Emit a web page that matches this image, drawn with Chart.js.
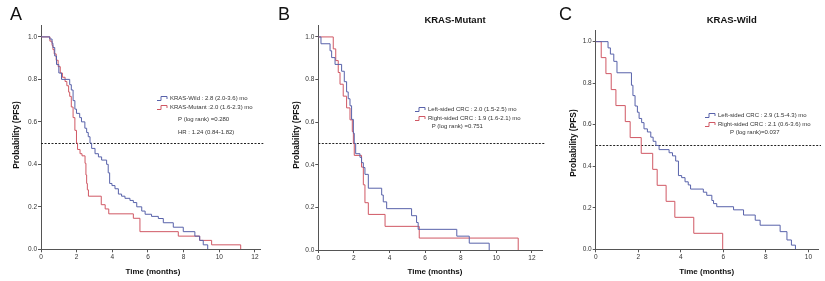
<!DOCTYPE html>
<html>
<head>
<meta charset="utf-8">
<script src="https://cdn.jsdelivr.net/npm/chart.js@4.4.1/dist/chart.umd.min.js"></script>
<style>
body{margin:0;background:#fff;overflow:hidden;}
.panel{position:absolute;top:0;width:275px;height:281px;}
</style>
</head>
<body>
<div class="panel" style="left:0"><canvas id="chartA" width="275" height="281"></canvas></div>
<div class="panel" style="left:275px"><canvas id="chartB" width="275" height="281"></canvas></div>
<div class="panel" style="left:550px"><canvas id="chartC" width="275" height="281"></canvas></div>
<script>
// ---- data ----
// A: all patients, KRAS-Wild vs KRAS-Mutant
const aWildTime = [0, 0.49, 0.62, 0.67, 0.77, 0.87, 1.0, 1.15, 1.61, 1.7, 1.8, 1.9, 1.99, 2.17, 2.27, 2.46, 2.56, 2.65, 2.75, 2.84, 3.03, 3.22, 3.4, 3.68, 3.77, 3.85, 3.98, 4.15, 4.34, 4.52, 4.71, 4.99, 5.18, 5.37, 5.65, 5.84, 6.2, 6.58, 6.86, 7.42, 7.98, 8.63, 8.9, 9.1, 9.35];
const aWildSurv = [1, 0.99, 0.97, 0.95, 0.91, 0.87, 0.83, 0.80, 0.775, 0.75, 0.70, 0.66, 0.64, 0.62, 0.60, 0.57, 0.55, 0.53, 0.50, 0.475, 0.45, 0.435, 0.42, 0.40, 0.36, 0.31, 0.30, 0.285, 0.26, 0.25, 0.24, 0.23, 0.22, 0.20, 0.18, 0.165, 0.155, 0.145, 0.125, 0.104, 0.083, 0.062, 0.042, 0.021, 0];
const aMutTime = [0, 0.5, 0.62, 0.67, 0.74, 0.85, 0.96, 1.08, 1.2, 1.35, 1.45, 1.55, 1.61, 1.7, 1.8, 1.9, 1.99, 2.05, 2.19, 2.3, 2.47, 2.52, 2.56, 2.6, 2.66, 3.38, 3.6, 3.8, 5.18, 5.55, 7.7, 8.9, 9.57, 11.2];
const aMutSurv = [1, 0.98, 0.96, 0.94, 0.92, 0.89, 0.86, 0.83, 0.81, 0.79, 0.77, 0.74, 0.72, 0.67, 0.62, 0.56, 0.50, 0.47, 0.45, 0.44, 0.405, 0.35, 0.31, 0.28, 0.25, 0.21, 0.19, 0.167, 0.146, 0.083, 0.062, 0.042, 0.021, 0];
// B: KRAS-Mutant, left- vs right-sided
const bLeftTime = [0, 0.15, 0.66, 0.75, 0.94, 1.31, 1.46, 1.59, 1.68, 1.78, 1.87, 1.97, 2.02, 2.1, 2.34, 2.43, 2.53, 2.62, 2.81, 3.56, 3.65, 3.84, 5.24, 5.52, 5.61, 7.78, 8.48, 9.6];
const bLeftSurv = [1, 0.968, 0.935, 0.903, 0.871, 0.839, 0.79, 0.742, 0.71, 0.677, 0.613, 0.548, 0.5, 0.452, 0.435, 0.41, 0.387, 0.355, 0.29, 0.258, 0.226, 0.194, 0.161, 0.129, 0.097, 0.065, 0.032, 0];
const bRightTime = [0, 0.84, 0.98, 1.12, 1.22, 1.4, 1.59, 1.78, 1.91, 1.97, 2.02, 2.43, 2.53, 2.62, 2.81, 3.75, 5.67, 11.23];
const bRightSurv = [1, 0.944, 0.889, 0.833, 0.778, 0.722, 0.667, 0.611, 0.556, 0.5, 0.444, 0.389, 0.306, 0.222, 0.167, 0.111, 0.056, 0];
// C: KRAS-Wild, left- vs right-sided
const cLeftTime = [0, 0.58, 0.69, 0.85, 1.0, 1.68, 1.75, 1.85, 1.96, 2.04, 2.16, 2.27, 2.43, 2.59, 2.7, 2.83, 2.98, 3.45, 3.61, 3.76, 3.89, 4.04, 4.2, 4.35, 4.46, 5.06, 5.22, 5.46, 5.54, 5.69, 6.48, 6.95, 7.5, 7.73, 8.67, 8.99, 9.2, 9.39];
const cLeftSurv = [1, 0.97, 0.94, 0.905, 0.85, 0.79, 0.74, 0.69, 0.66, 0.63, 0.61, 0.58, 0.565, 0.54, 0.52, 0.50, 0.48, 0.465, 0.45, 0.425, 0.355, 0.345, 0.325, 0.31, 0.29, 0.275, 0.26, 0.235, 0.22, 0.205, 0.19, 0.165, 0.14, 0.116, 0.085, 0.045, 0.02, 0];
const cRightTime = [0, 0.26, 0.48, 0.73, 0.95, 1.39, 1.62, 2.14, 2.68, 2.89, 3.31, 3.72, 4.61, 5.97];
const cRightSurv = [1, 0.923, 0.846, 0.769, 0.692, 0.615, 0.538, 0.462, 0.385, 0.308, 0.231, 0.154, 0.077, 0];

const yTicks = [0, 0.2, 0.4, 0.6, 0.8, 1.0];
const xTicksAB = [0, 2, 4, 6, 8, 10, 12];
const xTicksC = [0, 2, 4, 6, 8, 10];
const medianLevel = 0.5;

const legendA = ['KRAS-Wild : 2.8 (2.0-3.6) mo', 'KRAS-Mutant :2.0 (1.6-2.3) mo'];
const statsA = ['P (log rank) =0.280', 'HR : 1.24 (0.84-1.82)'];
const legendB = ['Left-sided CRC : 2.0 (1.5-2.5) mo', 'Right-sided CRC : 1.9 (1.6-2.1) mo'];
const statsB = ['P (log rank) =0.751'];
const legendC = ['Left-sided CRC : 2.9 (1.5-4.3) mo', 'Right-sided CRC : 2.1 (0.6-3.6) mo'];
const statsC = ['P (log rank)=0.037'];

const BLUE = 'rgb(88,98,170)';
const RED = 'rgb(208,88,100)';
const FONT = '"Liberation Sans", Arial, sans-serif';

function toPoints(t, s){
    return t.map((v, i) => ({x: v, y: s[i]}));
}

function makechart(id, cfg){
    const W = 275, H = 281;
    const decor = {
        id: 'decor' + id,
        beforeDatasetsDraw(chart){
            const ctx = chart.ctx, a = chart.chartArea;
            const y = chart.scales.y.getPixelForValue(medianLevel);
            ctx.save();
            ctx.strokeStyle = '#222';
            ctx.lineWidth = 1;
            ctx.setLineDash([2, 1.5]);
            ctx.beginPath();
            ctx.moveTo(a.left, Math.round(y) + 0.5);
            ctx.lineTo(a.right + 3, Math.round(y) + 0.5);
            ctx.stroke();
            ctx.restore();
        },
        afterDraw(chart){
            const ctx = chart.ctx;
            ctx.save();
            ctx.fillStyle = '#111';
            ctx.textBaseline = 'alphabetic';
            ctx.textAlign = 'left';
            ctx.font = '18px ' + FONT;
            ctx.fillText(cfg.letter, cfg.letterX, 20);
            ctx.textAlign = 'center';
            ctx.textBaseline = 'middle';
            if(cfg.title){
                ctx.font = 'bold 9.5px ' + FONT;
                ctx.fillText(cfg.title, cfg.titleX, 20);
            }
            ctx.font = 'bold 8px ' + FONT;
            ctx.fillText('Time (months)', cfg.xTitleX, 272);
            ctx.save();
            ctx.translate(cfg.yTitleX, cfg.yTitleY);
            ctx.rotate(-Math.PI / 2);
            ctx.font = 'bold 8.4px ' + FONT;
            ctx.fillText('Probability (PFS)', 0, 0);
            ctx.restore();

            // legend
            ctx.font = '6px ' + FONT;
            ctx.textAlign = 'left';
            ctx.fillStyle = '#333';
            cfg.legend.forEach((txt, i) => {
                const y = cfg.legY[i];
                const x = cfg.legX;
                ctx.strokeStyle = cfg.series[i].color;
                ctx.lineWidth = 1;
                ctx.beginPath();
                ctx.moveTo(x, y + 2.5);
                ctx.lineTo(x + 4, y + 2.5);
                ctx.lineTo(x + 4, y - 1.5);
                ctx.lineTo(x + 10, y - 1.5);
                ctx.lineTo(x + 10, y + 1);
                ctx.stroke();
                ctx.fillText(txt, x + 13, y);
            });
            cfg.stats.forEach((txt, i) => {
                ctx.fillText(txt, cfg.statX, cfg.statY[i]);
            });
            ctx.restore();
        }
    };

    new Chart(document.getElementById(id), {
        type: 'line',
        data: {
            datasets: cfg.series.map(s => ({
                data: toPoints(s.t, s.s),
                borderColor: s.color,
                backgroundColor: 'transparent',
                borderWidth: 1,
                stepped: 'before',
                pointRadius: 0,
                fill: false,
            })),
        },
        options: {
            responsive: false,
            animation: false,
            events: [],
            layout: {
                padding: {top: cfg.top, right: W - cfg.right, left: 0, bottom: 0}
            },
            plugins: {
                legend: {display: false},
                tooltip: {enabled: false},
            },
            scales: {
                x: {
                    type: 'linear',
                    min: 0,
                    max: cfg.xMax,
                    afterFit: s => { s.height = H - cfg.bottom; },
                    afterBuildTicks: s => { s.ticks = cfg.xTicks.map(v => ({value: v})); },
                    grid: {display: true, drawOnChartArea: false, drawTicks: true, tickLength: 3, color: '#555'},
                    border: {display: true, color: '#555', width: 1},
                    ticks: {
                        font: {family: FONT, size: 6.5},
                        color: '#333',
                        padding: 1,
                        maxRotation: 0,
                    },
                },
                y: {
                    min: 0,
                    max: 1.056,
                    afterFit: s => { s.width = cfg.left; },
                    afterBuildTicks: s => { s.ticks = yTicks.map(v => ({value: v})); },
                    grid: {display: true, drawOnChartArea: false, drawTicks: true, tickLength: 3, color: '#555'},
                    border: {display: true, color: '#555', width: 1},
                    ticks: {
                        font: {family: FONT, size: 6.5},
                        color: '#333',
                        padding: 1,
                        callback: v => v.toFixed(1),
                    },
                },
            },
        },
        plugins: [decor],
    });
}

makechart('chartA', {
    left: 41, right: 260.3, top: 25, bottom: 249.3, xMax: 12.3, xTicks: xTicksAB,
    series: [{t: aWildTime, s: aWildSurv, color: BLUE}, {t: aMutTime, s: aMutSurv, color: RED}],
    letter: 'A', letterX: 10, title: null,
    xTitleX: 153, yTitleX: 17, yTitleY: 135,
    legend: legendA, legX: 157, legY: [98, 107],
    stats: statsA, statX: 178, statY: [119, 132],
});
makechart('chartB', {
    left: 43.3, right: 267.6, top: 25, bottom: 250, xMax: 12.6, xTicks: xTicksAB,
    series: [{t: bLeftTime, s: bLeftSurv, color: BLUE}, {t: bRightTime, s: bRightSurv, color: RED}],
    letter: 'B', letterX: 3, title: 'KRAS-Mutant', titleX: 180,
    xTitleX: 160, yTitleX: 21.7, yTitleY: 135,
    legend: legendB, legX: 140, legY: [109, 118],
    stats: statsB, statX: 156.7, statY: [126],
});
makechart('chartC', {
    left: 45.7, right: 268, top: 30, bottom: 249.3, xMax: 10.45, xTicks: xTicksC,
    series: [{t: cLeftTime, s: cLeftSurv, color: BLUE}, {t: cRightTime, s: cRightSurv, color: RED}],
    letter: 'C', letterX: 9, title: 'KRAS-Wild', titleX: 181.7,
    xTitleX: 156.7, yTitleX: 23.3, yTitleY: 143,
    legend: legendC, legX: 155, legY: [115, 124],
    stats: statsC, statX: 180, statY: [132.7],
});
</script>
</body>
</html>
